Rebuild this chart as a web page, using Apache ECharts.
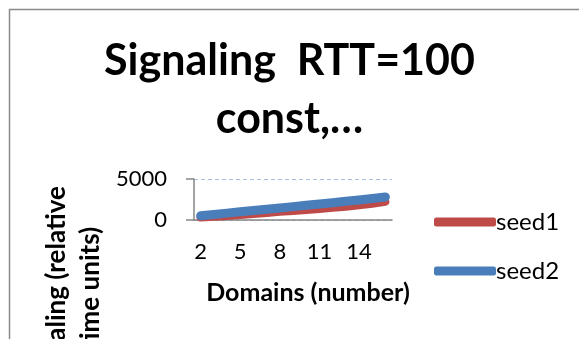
<!DOCTYPE html>
<html>
<head>
<meta charset="utf-8">
<script src="https://cdn.jsdelivr.net/npm/echarts@6/dist/echarts.min.js"></script>
<style>
  html, body { margin: 0; padding: 0; background: #fff; }
  #chart { width: 579px; height: 339px; }
</style>
</head>
<body>
<div id="chart"></div>
<script>
// Number of domains on the x axis
const domains = [2, 3, 4, 5, 6, 7, 8, 9, 10, 11, 12, 13, 14, 15, 16];
// Signaling time per run (relative time units)
const seed1 = [300, 390, 500, 620, 740, 860, 990, 1110, 1230, 1350, 1480, 1620, 1790, 1990, 2230];
const seed2 = [520, 680, 840, 1000, 1150, 1310, 1470, 1630, 1790, 1950, 2110, 2280, 2450, 2620, 2800];
const yTicks = [0, 5000];

const FONT = 'Lato, "Open Sans", sans-serif';

const chart = echarts.init(document.getElementById('chart'), null, { renderer: 'canvas' });

chart.setOption({
  animation: false,
  backgroundColor: '#fff',
  title: {
    text: 'Signaling  RTT=100\nconst,…',
    left: 'center',
    top: 27,
    textStyle: {
      fontFamily: FONT,
      fontWeight: 'bold',
      fontSize: 43,
      lineHeight: 58,
      color: '#000'
    }
  },
  graphic: [
    {
      type: 'rect',
      shape: { x: 9.5, y: 9.5, width: 700, height: 500 },
      style: { fill: 'none', stroke: '#8a8a8a', lineWidth: 1.5 },
      z: 0
    },
    {
      type: 'text',
      x: 74,
      y: 288,
      rotation: Math.PI / 2,
      style: {
        text: 'Signaling (relative\ntime units)',
        font: 'bold 26px ' + FONT,
        lineHeight: 34,
        align: 'center',
        verticalAlign: 'middle',
        fill: '#000'
      }
    },
    {
      type: 'text',
      x: 308,
      y: 293,
      style: {
        text: 'Domains (number)',
        font: 'bold 25px ' + FONT,
        align: 'center',
        verticalAlign: 'middle',
        fill: '#000'
      }
    }
  ],
  legend: {
    orient: 'vertical',
    left: 429,
    top: 205,
    itemWidth: 62,
    itemHeight: 9,
    itemGap: 25,
    textStyle: { fontFamily: FONT, fontSize: 24, color: '#000', padding: [0, 0, 0, -5] },
    data: [
      { name: 'seed1', icon: 'roundRect' },
      { name: 'seed2', icon: 'roundRect' }
    ]
  },
  grid: { left: 194, top: 179, width: 198, height: 41, containLabel: false },
  xAxis: {
    type: 'category',
    data: domains,
    boundaryGap: true,
    axisLine: { lineStyle: { color: '#868686', width: 1.5 } },
    axisTick: { show: false },
    axisLabel: { interval: 2, fontFamily: FONT, fontSize: 22, color: '#000', margin: 21 }
  },
  yAxis: {
    type: 'value',
    min: yTicks[0],
    max: yTicks[yTicks.length - 1],
    interval: yTicks[1] - yTicks[0],
    axisLine: { show: true, lineStyle: { color: '#868686', width: 1.5 } },
    axisTick: { show: true, length: 8, lineStyle: { color: '#868686', width: 1.5 } },
    axisLabel: {
      fontFamily: FONT, fontSize: 22, color: '#000', margin: 27,
      formatter: (v) => String(v)
    },
    splitLine: { show: true, lineStyle: { color: '#a9bfe6', type: [4, 3], width: 1 } }
  },
  series: [
    {
      name: 'seed1',
      type: 'line',
      data: seed1,
      symbol: 'none',
      color: '#be4b48',
      lineStyle: { width: 8, cap: 'round', join: 'round', color: '#be4b48' }
    },
    {
      name: 'seed2',
      type: 'line',
      data: seed2,
      symbol: 'none',
      color: '#4a7ebb',
      lineStyle: { width: 9, cap: 'round', join: 'round', color: '#4a7ebb' }
    }
  ]
});
</script>
</body>
</html>
